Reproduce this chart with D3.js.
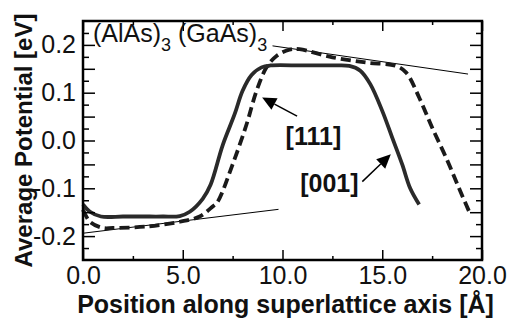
<!DOCTYPE html>
<html>
<head>
<meta charset="utf-8">
<script src="https://cdn.jsdelivr.net/npm/d3@7"></script>
<style>
  body { margin: 0; background: #fff; }
  svg { display: block; font-family: "Liberation Sans", Arial, sans-serif; }
</style>
</head>
<body>
<svg id="chart" width="512" height="320"></svg>
<script>
// [001] superlattice (solid curve)
var x001 = [0, 0.35, 0.9, 2, 3, 4, 4.85, 5.35, 6.0, 6.4, 7.0, 7.6, 8.0, 8.45, 8.95, 9.4, 11, 12.5, 13.35, 13.9, 14.4, 15.0, 15.5, 16.0, 16.4, 16.85];
var v001 = [-0.134, -0.149, -0.159, -0.159, -0.159, -0.159, -0.158, -0.149, -0.122, -0.092, -0.01, 0.055, 0.104, 0.137, 0.153, 0.157, 0.157, 0.157, 0.156, 0.146, 0.118, 0.062, 0.006, -0.05, -0.1, -0.134];

// [111] superlattice (dashed curve)
var x111 = [0, 0.35, 1.0, 1.5, 3.2, 4.85, 5.85, 6.5, 6.75, 7.5, 8.2, 8.7, 9.2, 9.7, 10.35, 10.85, 12.5, 14.2, 15.7, 16.2, 16.85, 17.5, 18.2, 18.85, 19.4];
var v111 = [-0.145, -0.17, -0.183, -0.183, -0.18, -0.17, -0.159, -0.138, -0.128, -0.05, 0.034, 0.104, 0.153, 0.177, 0.19, 0.191, 0.174, 0.163, 0.156, 0.142, 0.09, 0.027, -0.036, -0.1, -0.153];

// thin guide lines
var xUpper = [9.5, 19.3], vUpper = [0.198, 0.139];
var xLower = [0, 9.8], vLower = [-0.194, -0.144];

var xTicks = [0, 5, 10, 15, 20];
var xMinor = [2.5, 7.5, 12.5, 17.5];
var yTicks = [-0.2, -0.1, 0.0, 0.1, 0.2];
var yMid = [-0.15, -0.05, 0.05, 0.15];
var yMinor = [-0.225, -0.175, -0.125, -0.075, -0.025, 0.025, 0.075, 0.125, 0.175, 0.225];

var margin = {top: 21, right: 30, bottom: 60, left: 83},
    width = 512 - margin.left - margin.right,
    height = 320 - margin.top - margin.bottom;

var svg = d3.select("#chart");
var g = svg.append("g").attr("transform", "translate(" + margin.left + "," + margin.top + ")");

var x = d3.scaleLinear().domain([0, 20]).range([0, width]);
var y = d3.scaleLinear().domain([-0.25, 0.25]).range([height, 0]);

function pts(xs, vs) { return xs.map(function(d, i) { return [d, vs[i]]; }); }

var line = d3.line()
    .x(function(d) { return x(d[0]); })
    .y(function(d) { return y(d[1]); })
    .curve(d3.curveCatmullRom.alpha(0.5));

// guide lines
g.append("path").attr("d", line(pts(xUpper, vUpper)))
  .attr("fill", "none").attr("stroke", "#000").attr("stroke-width", 1);
g.append("path").attr("d", line(pts(xLower, vLower)))
  .attr("fill", "none").attr("stroke", "#000").attr("stroke-width", 1);

// curves
g.append("path").attr("d", line(pts(x111, v111)))
  .attr("fill", "none").attr("stroke", "#1a1a1a").attr("stroke-width", 3.8)
  .attr("stroke-dasharray", "10,5");
g.append("path").attr("d", line(pts(x001, v001)))
  .attr("fill", "none").attr("stroke", "#2a2a2a").attr("stroke-width", 3.8);

// axes (ticks pointing inwards)
function noLabel() { return ""; }
var fmt = function(d) { return d.toFixed(1); };

var xAxis = g.append("g").attr("transform", "translate(0," + height + ")")
  .call(d3.axisBottom(x).tickValues(xTicks).tickSize(-10).tickPadding(6).tickFormat(fmt));
g.append("g").attr("transform", "translate(0," + height + ")")
  .call(d3.axisBottom(x).tickValues(xMinor).tickSize(-4).tickFormat(noLabel));
g.append("g").call(d3.axisTop(x).tickValues(xTicks).tickSize(-10).tickFormat(noLabel));
g.append("g").call(d3.axisTop(x).tickValues(xMinor).tickSize(-4).tickFormat(noLabel));

var yAxis = g.append("g")
  .call(d3.axisLeft(y).tickValues(yTicks).tickSize(-12).tickPadding(7).tickFormat(fmt));
g.append("g").call(d3.axisLeft(y).tickValues(yMid).tickSize(-12).tickFormat(noLabel));
g.append("g").call(d3.axisLeft(y).tickValues(yMinor).tickSize(-6).tickFormat(noLabel));
g.append("g").attr("transform", "translate(" + width + ",0)")
  .call(d3.axisRight(y).tickValues(yTicks.concat(yMid)).tickSize(-12).tickFormat(noLabel));
g.append("g").attr("transform", "translate(" + width + ",0)")
  .call(d3.axisRight(y).tickValues(yMinor).tickSize(-6).tickFormat(noLabel));

g.selectAll(".domain").remove();
g.selectAll(".tick line").attr("stroke", "#000").attr("stroke-width", 1.5);
g.selectAll(".tick text").attr("font-size", 25).attr("fill", "#111")
  .attr("font-family", "Liberation Sans, Arial, sans-serif");
xAxis.selectAll(".tick text").attr("dy", "0.72em");

// frame
g.append("rect").attr("width", width).attr("height", height)
  .attr("fill", "none").attr("stroke", "#000").attr("stroke-width", 2.5);

// system label
var lab = g.append("text").attr("x", 10).attr("y", 21).attr("font-size", 25).attr("fill", "#111");
lab.append("tspan").text("(AlAs)");
lab.append("tspan").attr("font-size", 18).attr("dy", 9).text("3");
lab.append("tspan").attr("dy", -9).text(" (GaAs)");
lab.append("tspan").attr("font-size", 18).attr("dy", 9).text("3");

// arrows with labels
var arrows = [
  {label: "[111]", lx: 11.55, lv: 0.008, from: [10.73, 0.051], to: [8.98, 0.09]},
  {label: "[001]", lx: 12.35, lv: -0.09, from: [14.0, -0.086], to: [15.43, -0.029]}
];
arrows.forEach(function(a) {
  var x0 = x(a.from[0]), y0 = y(a.from[1]), x1 = x(a.to[0]), y1 = y(a.to[1]);
  var ang = Math.atan2(y1 - y0, x1 - x0), L = 14, W = 6.5;
  var bx = x1 - L * Math.cos(ang), by = y1 - L * Math.sin(ang);
  g.append("line").attr("x1", x0).attr("y1", y0).attr("x2", bx).attr("y2", by)
    .attr("stroke", "#000").attr("stroke-width", 1.5);
  g.append("path")
    .attr("d", "M" + x1 + "," + y1 +
      "L" + (bx + W * Math.sin(ang)) + "," + (by - W * Math.cos(ang)) +
      "L" + (bx - W * Math.sin(ang)) + "," + (by + W * Math.cos(ang)) + "Z")
    .attr("fill", "#000");
  g.append("text").attr("x", x(a.lx)).attr("y", y(a.lv)).attr("dy", "0.35em")
    .attr("text-anchor", "middle").attr("font-size", 25).attr("font-weight", "bold")
    .attr("fill", "#111").text(a.label);
});

// axis titles
svg.append("text").attr("x", margin.left + width / 2 + 3).attr("y", 313)
  .attr("text-anchor", "middle").attr("font-size", 25).attr("font-weight", "bold")
  .attr("fill", "#111").text("Position along superlattice axis [Å]");
svg.append("text").attr("transform", "translate(32," + (margin.top + height / 2) + ") rotate(-90)")
  .attr("text-anchor", "middle").attr("font-size", 24).attr("font-weight", "bold")
  .attr("fill", "#111").text("Average Potential [eV]");
</script>
</body>
</html>
